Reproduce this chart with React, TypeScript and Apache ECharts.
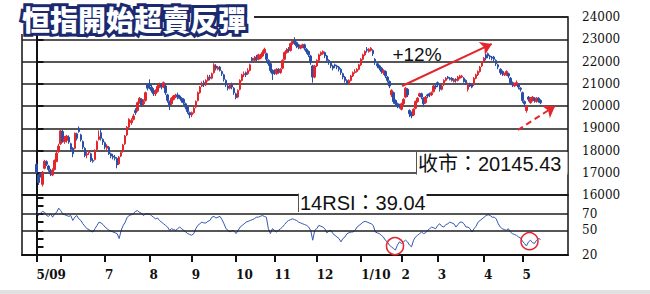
import React, { useEffect, useRef } from 'react';
import * as echarts from 'echarts';

// Each candle: [open, close, low, high]
type Candle = [number, number, number, number];

const may09: Candle[] = [
  [17380, 17020, 16950, 17420], [16900, 16560, 16450, 16950], [16980, 16850, 16780, 17020],
  [16480, 17020, 16380, 17080], [17200, 17520, 17150, 17580], [17500, 17380, 17300, 17560],
  [17300, 17150, 17050, 17350], [17100, 16950, 16850, 17180], [16900, 17120, 16850, 17200],
  [17150, 17550, 17100, 17600], [17500, 17880, 17480, 17950], [17950, 18200, 17900, 18300],
];
const jun09: Candle[] = [
  [18300, 18880, 18250, 18950], [18850, 18400, 18350, 18950], [18400, 18520, 18300, 18650],
  [18450, 18650, 18350, 18700], [18600, 18380, 18300, 18680], [18300, 18050, 17950, 18350],
  [18100, 17850, 17700, 18150], [18100, 18780, 18050, 18800], [18750, 18550, 18450, 18800],
  [19000, 18850, 18800, 19080], [18700, 18480, 18400, 18750], [18400, 18150, 18050, 18450],
  [18100, 17780, 17700, 18150], [17800, 17850, 17650, 17950], [17900, 17920, 17800, 18000],
  [17850, 17550, 17480, 17900], [17550, 17520, 17450, 17650], [17600, 18000, 17550, 18050],
  [18050, 18400, 18000, 18450], [18500, 18620, 18450, 18900], [18800, 18550, 18450, 19000],
  [18500, 18380, 18250, 18550],
];
const jul09: Candle[] = [
  [18350, 18150, 18050, 18400], [18100, 18200, 17950, 18280], [18150, 17850, 17800, 18200],
  [17850, 17750, 17650, 17900], [17750, 17700, 17600, 17850], [17700, 17650, 17550, 17800],
  [17650, 17350, 17200, 17700], [17400, 17700, 17350, 17750], [17750, 17900, 17700, 17950],
  [17950, 18250, 17900, 18300], [18300, 18650, 18250, 18700], [18700, 19050, 18650, 19100],
  [19050, 19400, 19000, 19450], [19250, 19350, 19150, 19450], [19400, 19550, 19350, 19650],
  [19800, 19700, 19600, 19900], [19800, 20150, 19750, 20200], [20150, 20350, 20100, 20400],
  [20300, 20050, 19950, 20350], [20100, 20200, 20000, 20300], [20250, 20600, 20200, 20650],
  [20950, 20800, 20700, 21000],
];
const aug09: Candle[] = [
  [20950, 20900, 20750, 21200], [20850, 20700, 20600, 20950], [20700, 20550, 20450, 20800],
  [20550, 20650, 20450, 20750], [20650, 20880, 20600, 20950], [20850, 20950, 20800, 21050],
  [20950, 20850, 20750, 21000], [20850, 21050, 20800, 21100], [20900, 20600, 20500, 20950],
  [20500, 20250, 20150, 20550], [20200, 20050, 19820, 20250], [20100, 20350, 20050, 20400],
  [20300, 20450, 20250, 20500], [20450, 20480, 20350, 20550], [20500, 20400, 20300, 20600],
  [20450, 20350, 20300, 20500], [20350, 20250, 20150, 20400], [20300, 20150, 20050, 20350],
  [20100, 19950, 19850, 20150], [19950, 19750, 19650, 20000], [19700, 19600, 19450, 19750],
];
const sep09: Candle[] = [
  [19600, 19700, 19500, 19750], [19700, 19900, 19650, 19950], [19950, 20200, 19900, 20250],
  [20250, 20600, 20200, 20650], [20600, 20850, 20550, 20900], [20900, 21000, 20850, 21100],
  [21050, 20950, 20850, 21150], [20950, 21150, 20900, 21200], [21150, 21300, 21100, 21400],
  [21300, 21250, 21150, 21400], [21250, 21450, 21200, 21500], [21500, 21850, 21450, 21920],
  [21800, 21700, 21600, 21880], [21650, 21750, 21600, 21800], [21750, 21600, 21550, 21800],
  [21550, 21450, 21350, 21600], [21400, 21200, 21100, 21450], [21150, 20950, 20850, 21200],
  [20900, 20800, 20700, 20950], [20800, 20950, 20750, 21000], [20950, 20850, 20750, 21050],
  [20800, 20600, 20500, 20850],
];
const oct09: Candle[] = [
  [20550, 20380, 20300, 20600], [20400, 20700, 20350, 20750], [20750, 21150, 20700, 21200],
  [21150, 21400, 21100, 21450], [21400, 21450, 21300, 21550], [21500, 21400, 21300, 21550],
  [21450, 21600, 21400, 21700], [21600, 21850, 21550, 21900], [22150, 22050, 21950, 22200],
  [22050, 22150, 22000, 22250], [22200, 22100, 22000, 22300], [22100, 22300, 22050, 22350],
  [22150, 22250, 22100, 22350], [22250, 22400, 22200, 22500], [22400, 22550, 22350, 22620],
  [22350, 22100, 22000, 22400], [22050, 21900, 21800, 22100], [21900, 21600, 21500, 21950],
  [21600, 21450, 21170, 21650],
];
const nov09: Candle[] = [
  [21550, 21500, 21400, 21650], [21450, 21650, 21400, 21700], [21650, 21550, 21450, 21700],
  [21500, 21650, 21450, 21700], [21700, 22050, 21650, 22100], [22100, 22400, 22050, 22450],
  [22400, 22500, 22350, 22600], [22550, 22500, 22400, 22650], [22500, 22800, 22450, 22850],
  [22800, 22900, 22750, 23000], [22950, 22850, 22750, 23090], [22850, 22700, 22600, 22900],
  [22750, 22650, 22550, 22800], [22600, 22700, 22550, 22750], [22700, 22750, 22600, 22800],
  [22750, 22600, 22500, 22800], [22550, 22450, 22350, 22600], [22450, 22300, 22200, 22500],
  [22250, 21950, 21850, 22300], [21800, 21300, 21050, 21850], [21300, 21800, 21250, 21850],
];
const dec09: Candle[] = [
  [21800, 22050, 21750, 22100], [22050, 22300, 22000, 22350], [22300, 22400, 22250, 22450],
  [22350, 22450, 22300, 22500], [22400, 22250, 22150, 22450], [22250, 22050, 21950, 22300],
  [22050, 21950, 21850, 22100], [21950, 21800, 21700, 22000], [21800, 21700, 21600, 21850],
  [21850, 21800, 21700, 21900], [21800, 21750, 21650, 21850], [21750, 21650, 21550, 21800],
  [21650, 21500, 21400, 21700], [21450, 21300, 21200, 21500], [21300, 21150, 21050, 21350],
  [21150, 21000, 20950, 21200], [21000, 21150, 20950, 21200], [21150, 21350, 21100, 21400],
  [21350, 21500, 21300, 21550], [21500, 21550, 21450, 21650], [21550, 21650, 21500, 21700],
  [21650, 21850, 21600, 21900],
];
const jan10: Candle[] = [
  [21850, 22100, 21800, 22150], [22100, 22300, 22050, 22350], [22300, 22450, 22250, 22500],
  [22550, 22500, 22400, 22650], [22450, 22550, 22400, 22600], [22500, 22600, 22450, 22650],
  [22500, 22350, 22250, 22550], [22100, 21950, 21850, 22150], [21900, 21800, 21700, 21950],
  [21800, 21700, 21600, 21850], [21700, 21550, 21450, 21750], [21500, 21600, 21400, 21650],
  [21550, 21350, 21250, 21600], [21300, 21150, 21050, 21350], [21100, 20900, 20800, 21150],
  [20500, 20700, 20400, 20750], [20600, 20200, 20100, 20650], [20250, 20100, 20000, 20300],
  [20100, 20000, 19900, 20150], [20050, 19950, 19880, 20100],
];
const feb10: Candle[] = [
  [19850, 20100, 19800, 20150], [20100, 20300, 20050, 20350], [20400, 20800, 20350, 20850],
  [20750, 20500, 20400, 20800], [19800, 19650, 19500, 19850], [19700, 19550, 19450, 19750],
  [19600, 19850, 19550, 19900], [19900, 20200, 19850, 20250], [20200, 20350, 20150, 20400],
  [20450, 20550, 20400, 20600], [20550, 20400, 20300, 20600], [20350, 20100, 19950, 20400],
  [20150, 20400, 20100, 20450], [20500, 20450, 20350, 20550], [20550, 20500, 20400, 20600],
  [20500, 20600, 20450, 20650], [20650, 20900, 20600, 20950], [20900, 20850, 20750, 20950],
];
const mar10: Candle[] = [
  [21050, 20950, 20850, 21100], [20950, 20750, 20650, 21000], [20750, 20900, 20700, 20950],
  [20950, 21150, 20900, 21200], [21150, 21250, 21100, 21300], [21300, 21250, 21200, 21350],
  [21250, 21200, 21150, 21300], [21250, 21150, 21100, 21300], [21100, 21200, 21050, 21250],
  [21200, 21150, 21050, 21250], [21150, 21300, 21100, 21350], [21250, 21350, 21200, 21400],
  [21300, 21350, 21250, 21400], [21250, 21100, 21050, 21300], [21150, 21050, 20950, 21200],
  [20750, 21000, 20650, 21050], [21000, 20900, 20850, 21050], [20950, 20850, 20800, 21000],
  [20950, 21250, 20900, 21300], [21250, 21400, 21200, 21450], [21400, 21550, 21350, 21600],
  [21550, 21750, 21500, 21800], [21800, 21950, 21750, 22000],
];
const apr10: Candle[] = [
  [22000, 22150, 21950, 22200], [22300, 22150, 22050, 22350], [22350, 22250, 22150, 22400],
  [22250, 22200, 22100, 22300], [22200, 22150, 22050, 22250], [22200, 22100, 22000, 22250],
  [22050, 21900, 21800, 22100], [21850, 21750, 21650, 21900], [21650, 21500, 21400, 21700],
  [21550, 21450, 21350, 21600], [21400, 21450, 21350, 21500], [21400, 21550, 21350, 21600],
  [21450, 21350, 21250, 21500], [21250, 21050, 20950, 21300], [21050, 20950, 20850, 21100],
  [20900, 21000, 20850, 21050], [20950, 21050, 20900, 21150], [20950, 20850, 20750, 21000],
  [20800, 20750, 20650, 20850],
];
const may10: Candle[] = [
  [20600, 20250, 20150, 20650], [20200, 20100, 19950, 20250], [19800, 20000, 19700, 20050],
  [20400, 20300, 20200, 20450], [20150, 20350, 20100, 20400], [20250, 20400, 20200, 20450],
  [20350, 20250, 20150, 20400], [20200, 20350, 20150, 20400], [20350, 20250, 20150, 20400],
  [20250, 20145.43, 20080, 20300],
];

// 14-day RSI, one value per trading day
const rsiMay09 = [75, 68, 71, 73, 72, 68, 67, 70, 66, 70, 72, 77];
const rsiJun09 = [74, 70, 69, 68, 67, 68, 62, 66, 68, 64, 62, 58, 55, 52, 51, 49, 48, 52, 56, 60, 59, 57];
const rsiJul09 = [54, 52, 50, 49, 48, 47, 46, 40, 50, 56, 60, 66, 68, 69, 70, 73, 74, 72, 71, 68, 70, 70];
const rsiAug09 = [70, 68, 66, 64, 65, 62, 60, 58, 56, 54, 50, 52, 51, 50, 52, 54, 52, 50, 48, 46, 45];
const rsiSep09 = [44, 46, 52, 56, 58, 60, 59, 59, 61, 62, 66, 67, 65, 66, 67, 63, 58, 52, 50, 48, 50, 49];
const rsiOct09 = [46, 50, 54, 56, 58, 60, 61, 62, 63, 64, 66, 66, 67, 68, 67, 66, 52, 46, 52];
const rsiNov09 = [50, 48, 50, 52, 54, 57, 60, 62, 63, 64, 63, 62, 60, 59, 58, 57, 56, 54, 50, 38, 50];
const rsiDec09 = [52, 56, 55, 54, 52, 47, 49, 50, 46, 44, 42, 40, 36, 40, 42, 46, 47, 48, 48, 50, 54, 56];
const rsiJan10 = [58, 60, 61, 60, 59, 58, 56, 48, 47, 46, 44, 42, 38, 36, 32, 30, 28, 26, 32, 36];
const rsiFeb10 = [34, 36, 38, 36, 32, 30, 38, 42, 44, 46, 48, 46, 47, 50, 52, 54, 53, 52];
const rsiMar10 = [56, 58, 55, 54, 57, 58, 60, 59, 58, 54, 57, 60, 60, 58, 54, 54, 52, 48, 52, 55, 60, 62, 64];
const rsiApr10 = [66, 68, 69, 68, 66, 66, 64, 58, 54, 52, 51, 50, 52, 48, 46, 45, 44, 42, 41];
const rsiMay10 = [37, 34, 31, 36, 38, 35, 34, 38, 40, 39.04];

// Month tick labels ('' = tick without label)
const monthLabels = ['5/09', '', '7', '8', '9', '10', '11', '12', '1/10', '2', '3', '4', '5'];
const monthCandles = [may09, jun09, jul09, aug09, sep09, oct09, nov09, dec09, jan10, feb10, mar10, apr10, may10];
const monthRsi = [rsiMay09, rsiJun09, rsiJul09, rsiAug09, rsiSep09, rsiOct09, rsiNov09, rsiDec09, rsiJan10, rsiFeb10, rsiMar10, rsiApr10, rsiMay10];
const rsiLabels = [20, 50, 70];

const TITLE = '恒指開始超賣反彈';
const GAIN_LABEL = '+12%';

const RED = '#e3262b';
const BLUE = '#2a4ea8';

export default function App() {
  const ref = useRef<HTMLDivElement>(null);

  useEffect(() => {
    if (!ref.current) return;
    const chart = echarts.init(ref.current, undefined, { renderer: 'svg' });

    const candleData: number[][] = [];
    const rsiData: number[][] = [];
    const monthStarts: number[] = [];
    let idx = 0;
    monthCandles.forEach((arr, m) => {
      monthStarts.push(idx);
      arr.forEach((c, k) => {
        candleData.push([idx, c[0], c[1], c[2], c[3]]);
        rsiData.push([idx, monthRsi[m][k]]);
        idx++;
      });
    });
    const labelStarts = monthStarts.filter((_, m) => monthLabels[m] !== '');
    const lastClose = candleData[candleData.length - 1][2];
    const lastRsi = rsiData[rsiData.length - 1][1];

    const X_MIN = -7.19;
    const X_MAX = 263.6;

    const axisFont = { fontFamily: 'DejaVu Serif', fontSize: 12, color: '#111' };

    chart.setOption({
      animation: false,
      backgroundColor: '#ffffff',
      grid: [
        { left: 22, right: 82, top: 17, height: 178, show: true, borderColor: '#111', borderWidth: 1.5 },
        { left: 22, right: 82, top: 195, height: 60, show: true, borderColor: '#111', borderWidth: 1.5 },
      ],
      xAxis: [
        { type: 'value', gridIndex: 0, min: X_MIN, max: X_MAX, show: false },
        {
          type: 'value', gridIndex: 1, min: X_MIN, max: X_MAX,
          axisLine: { show: true, lineStyle: { color: '#111', width: 2 } },
          axisTick: { show: true, customValues: monthStarts, length: 7, lineStyle: { color: '#111', width: 2 } },
          axisLabel: {
            ...axisFont, fontWeight: 'bold',
            customValues: labelStarts,
            formatter: (v: number) => monthLabels[monthStarts.indexOf(v)] ?? '',
            align: 'left', margin: 14,
          },
          splitLine: { show: false },
        },
      ],
      yAxis: [
        {
          type: 'value', gridIndex: 0, position: 'right', min: 16000, max: 24000, interval: 1000,
          axisLine: { show: true, lineStyle: { color: '#111', width: 2 } },
          axisTick: { show: true, length: 7, lineStyle: { color: '#111', width: 2 } },
          axisLabel: {
            ...axisFont, margin: 14, verticalAlign: 'middle', padding: [0, 0, 9, 0],
            formatter: (v: number) => String(Math.round(v)),
          },
          splitLine: { show: true, lineStyle: { color: '#1e1e1e', width: 1.5 } },
        },
        {
          type: 'value', gridIndex: 1, position: 'right', min: 20, max: 93, interval: 10,
          axisLine: { show: true, lineStyle: { color: '#111', width: 2 } },
          axisTick: { show: true, length: 7, lineStyle: { color: '#111', width: 2 } },
          axisLabel: {
            ...axisFont, margin: 14, verticalAlign: 'middle', padding: [0, 0, 9, 0],
            customValues: rsiLabels,
            formatter: (v: number) => (rsiLabels.indexOf(Math.round(v)) >= 0 ? String(Math.round(v)) : ''),
          },
          splitLine: { show: false },
        },
      ],
      series: [
        {
          type: 'candlestick',
          xAxisIndex: 0, yAxisIndex: 0,
          data: candleData,
          encode: { x: 0, y: [1, 2, 3, 4] },
          barWidth: 2,
          itemStyle: { color: RED, color0: BLUE, borderColor: RED, borderColor0: BLUE, borderWidth: 1 },
          markLine: {
            silent: true,
            symbol: ['none', 'arrow'],
            symbolSize: 11,
            label: { show: false },
            lineStyle: { color: RED, width: 2, type: 'solid' },
            data: [
              [{ coord: [181.3, 20900] }, { coord: [225.8, 22790] }],
              [{ coord: [238.7, 18920], lineStyle: { type: [6, 4], color: RED, width: 2 } }, { coord: [257.2, 20000] }],
            ],
          },
        },
        {
          type: 'line',
          xAxisIndex: 1, yAxisIndex: 1,
          data: rsiData,
          showSymbol: false,
          lineStyle: { color: '#3457b0', width: 1 },
          markLine: {
            silent: true, symbol: ['none', 'none'], label: { show: false },
            lineStyle: { color: '#1e1e1e', width: 1.5, type: 'solid' },
            data: [{ yAxis: 70 }, { yAxis: 50 }],
          },
          markPoint: {
            silent: true, symbol: 'circle', symbolSize: 17, label: { show: false },
            itemStyle: { color: 'rgba(0,0,0,0)', borderColor: RED, borderWidth: 1.5 },
            data: [{ coord: [177.8, 30.8] }, { coord: [244.5, 36.8] }],
          },
        },
      ],
      graphic: [
        { type: 'rect', z: 100, shape: { x: 17, y: 0, width: 237, height: 34 }, style: { fill: '#fff' } },
        {
          type: 'text', z: 101, x: 22, y: 5,
          style: { text: TITLE, font: '900 28px "Noto Sans CJK TC"', fill: '#1b2a70', stroke: '#1b2a70', lineWidth: 6, textVerticalAlign: 'top' },
        },
        {
          type: 'text', z: 102, x: 22, y: 5,
          style: { text: TITLE, font: '900 28px "Noto Sans CJK TC"', fill: '#ffffff', textVerticalAlign: 'top' },
        },
        {
          type: 'text', z: 100, x: 417, y: 54,
          style: { text: GAIN_LABEL, font: '19px "Liberation Sans"', fill: '#111', textAlign: 'center', textVerticalAlign: 'middle' },
        },
        { type: 'rect', z: 100, shape: { x: 416.5, y: 152, width: 151, height: 22.5 }, style: { fill: '#fff' } },
        { type: 'line', z: 101, shape: { x1: 416.5, y1: 152, x2: 416.5, y2: 174.5 }, style: { stroke: '#555', lineWidth: 1 } },
        {
          type: 'text', z: 101, x: 418, y: 164,
          style: { text: `收市：${lastClose.toFixed(2)}`, font: '20px "Liberation Sans", "Noto Sans CJK TC"', fill: '#111', textVerticalAlign: 'middle' },
        },
        { type: 'rect', z: 100, shape: { x: 298.5, y: 193.5, width: 128, height: 18.5 }, style: { fill: '#fff' } },
        { type: 'line', z: 101, shape: { x1: 298.5, y1: 193.5, x2: 298.5, y2: 212 }, style: { stroke: '#555', lineWidth: 1 } },
        {
          type: 'text', z: 101, x: 300, y: 203,
          style: { text: `14RSI：${lastRsi.toFixed(2)}`, font: '20px "Liberation Sans", "Noto Sans CJK TC"', fill: '#111', textVerticalAlign: 'middle' },
        },
        { type: 'rect', z: 100, shape: { x: 0, y: 290, width: 650, height: 4 }, style: { fill: '#e2e2e2' } },
      ],
    });

    return () => chart.dispose();
  }, []);

  return <div ref={ref} style={{ position: 'fixed', left: 0, top: 0, width: 650, height: 294 }} />;
}
